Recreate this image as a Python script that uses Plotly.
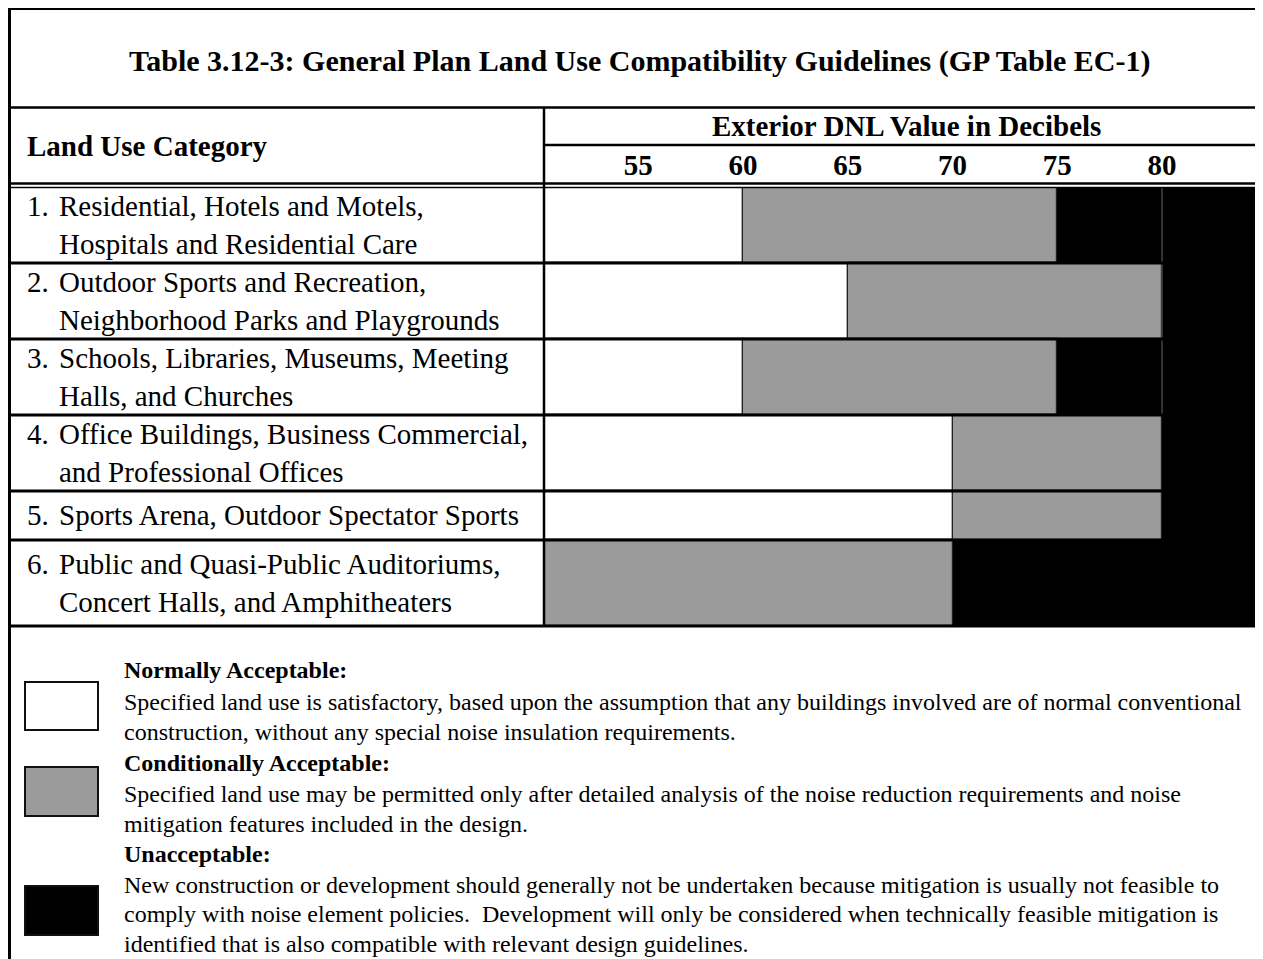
import plotly.graph_objects as go

# ---------------- data ----------------
row_numbers = ["1.", "2.", "3.", "4.", "5.", "6."]
category_lines = [
    ["Residential, Hotels and Motels,", "Hospitals and Residential Care"],
    ["Outdoor Sports and Recreation,", "Neighborhood Parks and Playgrounds"],
    ["Schools, Libraries, Museums, Meeting", "Halls, and Churches"],
    ["Office Buildings, Business Commercial,", "and Professional Offices"],
    ["Sports Arena, Outdoor Spectator Sports"],
    ["Public and Quasi-Public Auditoriums,", "Concert Halls, and Amphitheaters"],
]
scale_start = 50
scale_end = 85
normally_acceptable_to = [60, 65, 60, 70, 70, None]   # None: no normally acceptable range
conditionally_acceptable_to = [75, 80, 75, 80, 80, 70]
tick_values = [55, 60, 65, 70, 75, 80]
tick_labels = ["55", "60", "65", "70", "75", "80"]

title_text = "Table 3.12-3: General Plan Land Use Compatibility Guidelines (GP Table EC-1)"
col1_header = "Land Use Category"
col2_header = "Exterior DNL Value in Decibels"

legend_names = ["Normally Acceptable:", "Conditionally Acceptable:", "Unacceptable:"]
legend_texts = [
    ["Specified land use is satisfactory, based upon the assumption that any buildings involved are of normal conventional",
     "construction, without any special noise insulation requirements."],
    ["Specified land use may be permitted only after detailed analysis of the noise reduction requirements and noise",
     "mitigation features included in the design."],
    ["New construction or development should generally not be undertaken because mitigation is usually not feasible to",
     "comply with noise element policies.  Development will only be considered when technically feasible mitigation is",
     "identified that is also compatible with relevant design guidelines."],
]

# ---------------- layout constants (pixels on screen) ----------------
W, H = 1263, 959
OFF = 8  # page body margin
FONT = "Liberation Serif"
WHITE, GRAY, BLACK = "#ffffff", "#9b9b9b", "#000000"

X_LEFT_PX = 544
PX_PER_DB = 20.95
X_RANGE = [50.5, scale_end]
ROW_TOP_PX = 187
ROW_HEIGHTS = [76, 76, 76, 76, 49, 86]
LINE_GAP = 38


def px_x(x):
    return (x - OFF) / W


def px_y(y):
    return 1 - (y - OFF) / H


row_tops = []
acc = 0
for h in ROW_HEIGHTS:
    row_tops.append(acc)
    acc += h
total_h = acc
row_centers = [t + h / 2 for t, h in zip(row_tops, ROW_HEIGHTS)]

# ---------------- bars ----------------
white_base, white_len, gray_base, gray_len, black_base, black_len = [], [], [], [], [], []
for n, c in zip(normally_acceptable_to, conditionally_acceptable_to):
    if n is None:
        white_base.append(scale_start); white_len.append(0)
        gray_base.append(scale_start); gray_len.append(c - scale_start)
    else:
        white_base.append(scale_start); white_len.append(n - scale_start)
        gray_base.append(n); gray_len.append(c - n)
    black_base.append(c); black_len.append(scale_end - c)

fig = go.Figure()
for name, base, length, color, lw in [
    ("Normally Acceptable", white_base, white_len, WHITE, 1.2),
    ("Conditionally Acceptable", gray_base, gray_len, GRAY, 1.2),
    ("Unacceptable", black_base, black_len, BLACK, 0),
]:
    fig.add_trace(go.Bar(
        name=name, orientation="h", y=row_centers, x=length, base=base,
        width=ROW_HEIGHTS, marker=dict(color=color, line=dict(color="#222222", width=lw)),
        showlegend=False, hoverinfo="skip",
    ))

x_right_px = X_LEFT_PX + (X_RANGE[1] - X_RANGE[0]) * PX_PER_DB

fig.update_layout(
    width=W, height=H, margin=dict(l=0, r=0, t=0, b=0), autosize=False,
    paper_bgcolor="white", plot_bgcolor="white", barmode="overlay", bargap=0,
    xaxis=dict(domain=[px_x(X_LEFT_PX), px_x(x_right_px)], range=X_RANGE, side="top",
               tickvals=tick_values, ticktext=tick_labels, ticks="", showgrid=False,
               zeroline=False, showline=False, ticklabelstandoff=5,
               tickfont=dict(family=FONT, size=29, color="black", weight="bold")),
    yaxis=dict(domain=[px_y(626), px_y(ROW_TOP_PX)], range=[total_h, 0],
               showticklabels=False, ticks="", showgrid=False, zeroline=False, showline=False),
)

# thin column boundary at 80 dB inside the black cells of rows 1-3
fig.add_shape(type="line", xref="x", yref="y", x0=80, x1=80, y0=0,
              y1=row_tops[2] + ROW_HEIGHTS[2], line=dict(color="#555555", width=1.2))

# ---------------- table lines ----------------
def hline(y, x0, x1, w):
    fig.add_shape(type="line", xref="paper", yref="paper", x0=px_x(x0), x1=px_x(x1),
                  y0=px_y(y), y1=px_y(y), line=dict(color="black", width=w))


def vline(x, y0, y1, w):
    fig.add_shape(type="line", xref="paper", yref="paper", x0=px_x(x), x1=px_x(x),
                  y0=px_y(y0), y1=px_y(y1), line=dict(color="black", width=w))


END = OFF + W
hline(8.5, 8, END, 3)
vline(9.5, 8, OFF + H, 3)
hline(107.5, 8, END, 2.5)
vline(544, 107, 626, 2.5)
hline(145, 544, END, 2.5)
hline(183.5, 8, END, 2.5)
hline(187.5, 8, END, 1.5)
y_acc = ROW_TOP_PX
for h in ROW_HEIGHTS:
    y_acc += h
    hline(y_acc, 8, END, 3)


def text(x, y, s, size, bold=False, xanchor="left"):
    fig.add_annotation(xref="paper", yref="paper", x=px_x(x), y=px_y(y), text=s,
                       showarrow=False, xanchor=xanchor, yanchor="middle",
                       font=dict(family=FONT, size=size, color="black",
                                 weight="bold" if bold else "normal"))


text(640, 61, title_text, 30, True, "center")
text(25, 146, col1_header, 29, True)
text(906, 126, col2_header, 29, True, "center")

for i, lines in enumerate(category_lines):
    c = ROW_TOP_PX + row_centers[i]
    n = len(lines)
    for j, ln in enumerate(lines):
        y = c + (j - (n - 1) / 2) * LINE_GAP
        if j == 0:
            text(25, y, row_numbers[i], 29)
        text(57, y, ln, 29)

# ---------------- legend ----------------
box_y = [(682, 730), (767, 816), (886, 935)]
box_colors = [WHITE, GRAY, BLACK]
header_y = [670, 763, 854]
body_y = [[702, 732], [794, 824], [885, 914, 944]]
for k in range(3):
    fig.add_shape(type="rect", xref="paper", yref="paper", x0=px_x(25), x1=px_x(98),
                  y0=px_y(box_y[k][1]), y1=px_y(box_y[k][0]), fillcolor=box_colors[k],
                  line=dict(color="#111111", width=2))
    text(122, header_y[k], legend_names[k], 24, True)
    for ln, yy in zip(legend_texts[k], body_y[k]):
        text(122, yy, ln, 24)

fig.write_html("out.html")
